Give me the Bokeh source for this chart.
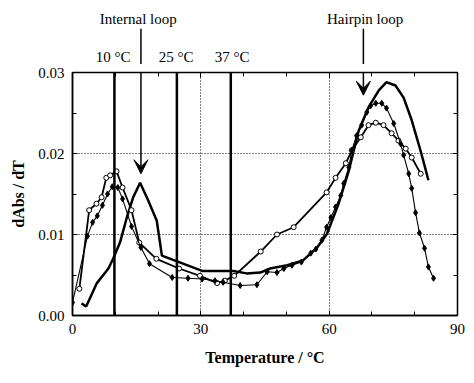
from bokeh.plotting import figure
from bokeh.layouts import column
from bokeh.models import (Span, Arrow, VeeHead, FixedTicker, LinearAxis,
                          Range1d, PrintfTickFormatter)
from bokeh.core.properties import value
from bokeh.embed import file_html
from bokeh.resources import INLINE

# Curve A: thick line, no markers
x_a = [2.1, 3.2, 5.7, 8.4, 9.5, 11.1, 12.7, 14.2, 15.8, 17.7, 19.7, 20.9, 30.3, 37.6,
       40.7, 43.9, 46.2, 50.2, 53.9, 57.2, 59.5, 62.2, 64.6, 66.9, 69.2, 71.6, 73.4,
       75.5, 77.4, 79.3, 80.9, 82.0, 83.2]
y_a = [0.0015, 0.0011, 0.0040, 0.0058, 0.0070, 0.0090, 0.0121, 0.0146, 0.0164, 0.0142,
       0.0117, 0.0074, 0.0055, 0.0055, 0.0052, 0.0053, 0.0058, 0.0062, 0.0068, 0.0084,
       0.0101, 0.0138, 0.0179, 0.0228, 0.0257, 0.0278, 0.0288, 0.0284, 0.0269, 0.0241,
       0.0212, 0.0191, 0.0167]

# Curve B: open circles
x_b = [1.6, 3.9, 5.6, 6.8, 7.9, 8.8, 10.3, 11.7, 13.8, 15.6, 19.6, 24.9, 29.8, 33.8,
       35.6, 37.8, 44.0, 47.8, 51.7, 59.4, 61.5, 63.9, 65.3, 67.4, 69.2, 70.9, 72.7,
       74.6, 76.2, 77.9, 79.3, 81.4]
y_b = [0.0033, 0.0130, 0.0138, 0.0146, 0.0170, 0.0173, 0.0178, 0.0158, 0.0130, 0.0090,
       0.0070, 0.0058, 0.0049, 0.0040, 0.0043, 0.0049, 0.0079, 0.0100, 0.0109, 0.0152,
       0.0170, 0.0188, 0.0204, 0.0220, 0.0235, 0.0238, 0.0235, 0.0225, 0.0216, 0.0206,
       0.0195, 0.0175]

# Curve C: small filled markers, thin line
x_c = [0.0, 3.5, 4.7, 5.8, 7.0, 8.2, 9.3, 10.6, 11.7, 13.8, 16.0, 18.0, 23.3, 27.0,
       30.3, 33.3, 35.2, 39.2, 43.1, 45.5, 47.8, 49.4, 51.3, 53.5, 55.7, 56.9, 58.3,
       59.4, 60.4, 61.5, 62.7, 63.4, 64.6, 65.3, 66.4, 67.6, 68.8, 69.7, 70.9, 72.3,
       73.4, 75.1, 76.7, 77.4, 78.6, 79.3, 80.2, 81.1, 82.3, 83.2, 84.4]
y_c = [0.0016, 0.0098, 0.0115, 0.0123, 0.0136, 0.0150, 0.0159, 0.0158, 0.0144, 0.0110,
       0.0084, 0.0064, 0.0047, 0.0046, 0.0045, 0.0043, 0.0041, 0.0037, 0.0038, 0.0054,
       0.0053, 0.0058, 0.0062, 0.0066, 0.0077, 0.0082, 0.0093, 0.0109, 0.0121, 0.0134,
       0.0148, 0.0163, 0.0183, 0.0204, 0.0222, 0.0235, 0.0251, 0.0259, 0.0262, 0.0262,
       0.0256, 0.0237, 0.0212, 0.0198, 0.0175, 0.0157, 0.0127, 0.0102, 0.0083, 0.0060,
       0.0046]

x_major = [0, 30, 60, 90]
x_minor = [10, 20, 40, 50, 70, 80]
y_major = [0.0, 0.01, 0.02, 0.03]
y_minor = [0.005, 0.015, 0.025]

temp_lines = [9.8, 24.4, 37.0]
temp_labels = ["10 °C", "25 °C", "37 °C"]
temp_label_x = [9.5, 24.2, 37.3]
temp_label_y = [0.0319, 0.0319, 0.0319]

loop_labels = ["Internal  loop", "Hairpin loop"]
loop_label_x = [15.8, 68.4]
loop_label_y = [0.0366, 0.0366]
arrow_x = [16.0, 68.0]
arrow_tail_y = [0.0354, 0.0354]
arrow_tip_y = [0.0175, 0.0272]

FONT = "Liberation Serif"
Y_TOP = 0.03
Y_GAP = 0.00099   # the strip between header panel and plot frame (8 px)
Y_HEAD = 0.0389   # header panel upper data limit (same scale as the plot)

x_range = Range1d(0, 90)

# ---------- header panel (labels and arrow tails above the frame) ----------
h = figure(width=466, height=64, x_range=x_range, y_range=Range1d(Y_TOP + Y_GAP, Y_HEAD),
           output_backend="svg", toolbar_location=None,
           min_border_left=72, min_border_right=9, min_border_top=0, min_border_bottom=0,
           x_axis_location=None, y_axis_location=None)
h.outline_line_color = None
h.grid.visible = False
h.background_fill_color = "white"

h.text(x=temp_label_x, y=temp_label_y, text=temp_labels, text_align="center",
       text_baseline="middle", text_font=value(FONT), text_font_size="15px",
       text_color="black")
h.text(x=loop_label_x, y=loop_label_y, text=loop_labels, text_align="center",
       text_baseline="middle", text_font=value(FONT), text_font_size="15px",
       text_color="black")
h.segment(x0=arrow_x, y0=arrow_tail_y, x1=arrow_x, y1=[Y_TOP, Y_TOP],
          line_color="black", line_width=1.5)

# ---------- main plot ----------
p = figure(width=466, height=311, x_range=x_range, y_range=Range1d(0, Y_TOP),
           output_backend="svg", toolbar_location=None,
           min_border_left=72, min_border_right=9, min_border_top=8, min_border_bottom=60)
p.background_fill_color = "white"
p.outline_line_color = "black"
p.outline_line_width = 1.5

for ax in (p.xaxis[0], p.yaxis[0]):
    ax.major_tick_in = 5
    ax.major_tick_out = 0
    ax.minor_tick_in = 4
    ax.minor_tick_out = 0
    ax.axis_line_color = "black"
    ax.axis_line_width = 1.5
    ax.major_label_text_font = FONT
    ax.major_label_text_font_size = "15px"
    ax.major_label_text_color = "black"
    ax.axis_label_text_font = FONT
    ax.axis_label_text_font_style = "bold"
    ax.axis_label_text_font_size = "16px"
    ax.axis_label_text_color = "black"
    ax.major_label_standoff = 8

p.xaxis[0].ticker = FixedTicker(ticks=x_major, minor_ticks=x_minor)
p.yaxis[0].ticker = FixedTicker(ticks=y_major, minor_ticks=y_minor)
p.yaxis[0].formatter = PrintfTickFormatter(format="%.2f")
p.xaxis[0].axis_label = "Temperature / °C"
p.yaxis[0].axis_label = "dAbs / dT"
p.xaxis[0].axis_label_standoff = 12
p.yaxis[0].axis_label_standoff = 8

# top and right axes: ticks only, no labels
top = LinearAxis(ticker=FixedTicker(ticks=x_major, minor_ticks=x_minor),
                 major_label_overrides={t: "" for t in x_major},
                 major_tick_in=5, major_tick_out=0, minor_tick_in=4, minor_tick_out=0,
                 axis_line_color=None, major_label_standoff=0)
right = LinearAxis(ticker=FixedTicker(ticks=y_major, minor_ticks=y_minor),
                   major_label_overrides={t: "" for t in y_major},
                   major_tick_in=5, major_tick_out=0, minor_tick_in=4, minor_tick_out=0,
                   axis_line_color=None, major_label_standoff=0)
p.add_layout(top, "above")
p.add_layout(right, "right")

p.xgrid.ticker = FixedTicker(ticks=[30, 60])
p.ygrid.ticker = FixedTicker(ticks=[0.01, 0.02])
for g in (p.xgrid, p.ygrid):
    g.grid_line_color = "black"
    g.grid_line_dash = "1 2"
    g.grid_line_width = 1

for t in temp_lines:
    p.add_layout(Span(location=t, dimension="height", line_color="black", line_width=2.5))

p.line(x_a, y_a, line_color="black", line_width=2.5)
p.line(x_b, y_b, line_color="black", line_width=1.8)
p.scatter(x_b, y_b, marker="circle", size=5, fill_color="white", line_color="black",
          line_width=1)
p.line(x_c, y_c, line_color="black", line_width=1.1)
p.scatter(x_c, y_c, marker="diamond", size=6, fill_color="black", line_color="black")

# arrow tails continue through the 8px strip above the frame (header draws the rest)
gap_seg_y0 = [Y_TOP + Y_GAP, Y_TOP + Y_GAP]
p.segment(x0=arrow_x, y0=gap_seg_y0, x1=arrow_x, y1=[Y_TOP, Y_TOP],
          line_color="black", line_width=1.5)

for ax_x, tip in zip(arrow_x, arrow_tip_y):
    p.add_layout(Arrow(x_start=ax_x, y_start=Y_TOP + Y_GAP, x_end=ax_x, y_end=tip,
                       line_color="black", line_width=1.5,
                       end=VeeHead(size=14, fill_color="black", line_color="black")))

layout = column(h, p, spacing=0)
open("out.html", "w").write(file_html(layout, INLINE))
